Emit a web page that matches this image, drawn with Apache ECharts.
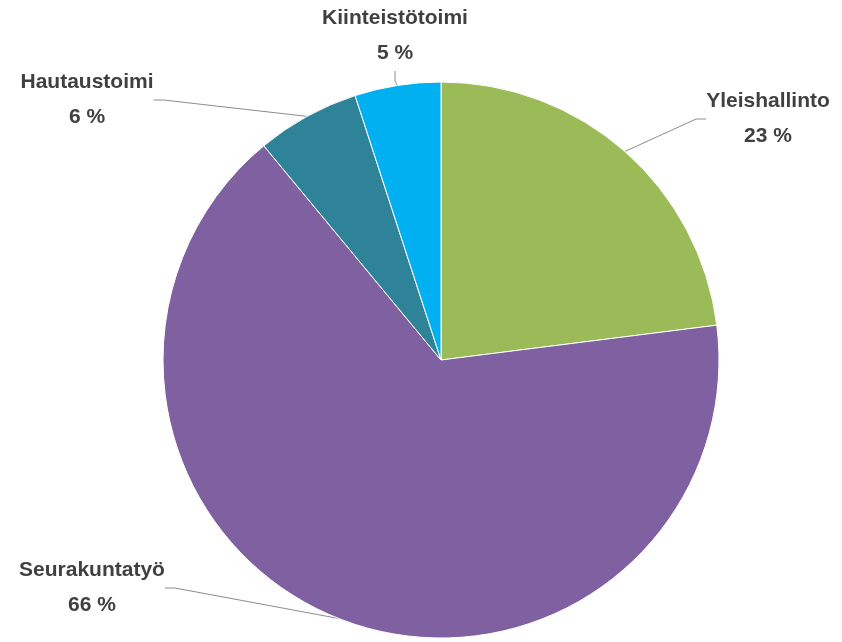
<!DOCTYPE html>
<html>
<head>
<meta charset="utf-8">
<script src="https://cdn.jsdelivr.net/npm/echarts@6/dist/echarts.min.js"></script>
<style>
  html, body { margin: 0; padding: 0; background: #fff; }
  #main { width: 842px; height: 642px; }
</style>
</head>
<body>
<div id="main"></div>
<script>
// data
var categories = ['Yleishallinto', 'Seurakuntatyö', 'Hautaustoimi', 'Kiinteistötoimi'];
var shares = [23, 66, 6, 5];
var colors = ['#9bbb59', '#7f60a0', '#2f8399', '#00b0f0'];

// where each label block sits (centre x, middle y)
var labelSpots = [
    [768, 119],
    [92, 588],
    [87, 100],
    [395, 36]
];

var myChart = echarts.init(document.getElementById('main'));

var option = {
    backgroundColor: '#ffffff',
    animation: false,
    series: [
        {
            type: 'pie',
            center: [441, 360],
            radius: 278,
            startAngle: 90,
            clockwise: true,
            avoidLabelOverlap: false,
            itemStyle: {
                borderColor: '#ffffff',
                borderWidth: 1
            },
            label: {
                show: true,
                formatter: '{b}\n{c} %',
                fontFamily: 'Liberation Sans',
                fontWeight: 'bold',
                fontSize: 21,
                lineHeight: 35,
                color: '#404040',
                align: 'center'
            },
            labelLine: {
                show: true,
                length: 10,
                length2: 10,
                lineStyle: { color: '#8c8c8c', width: 1 }
            },
            labelLayout: function (params) {
                var p = labelSpots[params.dataIndex];
                return {
                    x: p[0],
                    y: p[1],
                    align: 'center',
                    verticalAlign: 'middle'
                };
            },
            data: categories.map(function (name, i) {
                return { name: name, value: shares[i], itemStyle: { color: colors[i] } };
            })
        }
    ]
};

myChart.setOption(option);
</script>
</body>
</html>
